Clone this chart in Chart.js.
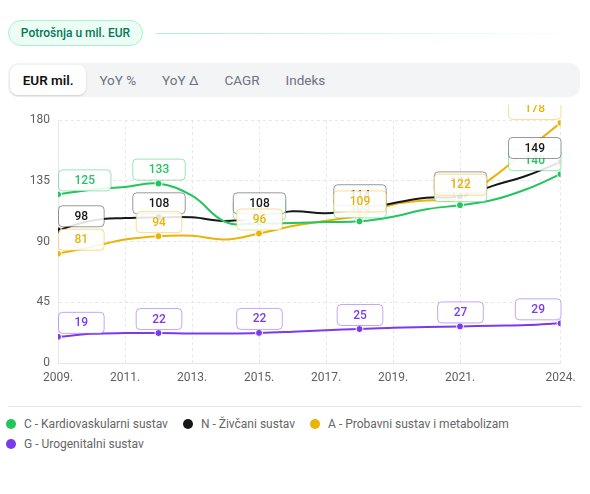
<!DOCTYPE html>
<html>
<head>
<meta charset="utf-8">
<script src="https://cdn.jsdelivr.net/npm/chart.js@4.4.0/dist/chart.umd.min.js"></script>
<style>
  body { margin: 0; width: 590px; height: 494px; background: #fff; font-family: Roboto, sans-serif; position: relative; overflow: hidden; }
  .pill { position: absolute; left: 8px; top: 20px; width: 135px; height: 26px; box-sizing: border-box;
          border: 1px solid #a7f3d0; background: #ecfdf5; border-radius: 13px;
          color: #047857; font-size: 12px; font-weight: 500; line-height: 24px; text-align: center; }
  .rule { position: absolute; left: 156px; top: 33px; width: 424px; height: 1px;
          background: linear-gradient(90deg, #a7f3d0, rgba(167,243,208,0)); }
  .tabs { position: absolute; left: 8px; top: 63px; width: 572px; height: 34px; box-sizing: border-box;
          padding: 2px; background: #f3f4f6; border-radius: 10px; display: flex; }
  .tab { height: 30px; line-height: 30px; padding: 0 13px; font-size: 13.5px; color: #6b7280; }
  .tab.active { background: #fff; color: #111; font-weight: 600; border-radius: 8px; padding: 0 12.7px;
                box-shadow: 0 1px 2px rgba(0,0,0,0.15); }
  .wrap { position: absolute; left: 0; top: 105px; width: 590px; height: 290px; }
  .sep { position: absolute; left: 8px; top: 406px; width: 574px; height: 1px; background: #e5e7eb; }
  #legend { position: absolute; left: 6px; top: 414px; width: 580px; display: flex; flex-wrap: wrap; column-gap: 15px; }
  .item { height: 20px; display: flex; align-items: center; font-size: 12px; color: #666; }
  .dot { width: 10px; height: 10px; border-radius: 50%; margin-right: 8px; }
</style>
</head>
<body>
<div class="pill">Potrošnja u mil. EUR</div>
<div class="rule"></div>
<div class="tabs">
  <span class="tab active">EUR mil.</span>
  <span class="tab">YoY %</span>
  <span class="tab">YoY Δ</span>
  <span class="tab">CAGR</span>
  <span class="tab">Indeks</span>
</div>
<div class="wrap"><canvas id="chart"></canvas></div>
<div class="sep"></div>
<div id="legend"></div>
<script>
// godine i vrijednosti (mil. EUR)
const years = [2009, 2010, 2011, 2012, 2013, 2014, 2015, 2016, 2017, 2018, 2019, 2020, 2021, 2022, 2023, 2024];
const kardio  = [125, 128.5, 130.5, 133, 124, 104.5, 103.5, 103.8, 104.5, 105, 108.5, 114, 117, 121, 129, 140];
const zivcani = [98.4, 105.5, 107.5, 108, 108, 105.3, 108, 112.5, 111, 114, 118.5, 122.5, 123.5, 131.5, 139, 149];
const probavni = [81, 86, 91.5, 94, 94.3, 91.6, 96, 101.5, 105.5, 109.4, 117.5, 120.5, 121.8, 138, 158, 178];
const urogen  = [19.4, 21.6, 22.2, 22.2, 21.8, 21.9, 22.3, 23.2, 24.3, 25.2, 26.2, 26.7, 27.1, 27.6, 28.1, 29.4];

const seriesNames = ['C - Kardiovaskularni sustav', 'N - Živčani sustav', 'A - Probavni sustav i metabolizam', 'G - Urogenitalni sustav'];
const seriesValues = [kardio, zivcani, probavni, urogen];
const seriesColors = ['#22c55e', '#171717', '#eab308', '#7c3aed'];
const boxBorders = ['rgba(34,197,94,0.45)', 'rgba(0,0,0,0.4)', 'rgba(234,179,8,0.45)', 'rgba(124,58,237,0.45)'];

const xTicks = [2009, 2011, 2013, 2015, 2017, 2019, 2021, 2024];
const yTicks = [0, 45, 90, 135, 180];
const labelEvery = 3;

Chart.defaults.font.family = 'Roboto';

// natpisi s vrijednostima iznad svake trece tocke
const valueLabels = {
  id: 'valueLabels',
  afterDatasetsDraw(chart) {
    const {ctx, chartArea} = chart;
    ctx.save();
    ctx.font = '500 12px Roboto';
    ctx.textAlign = 'center';
    ctx.textBaseline = 'middle';
    chart.data.datasets.forEach((ds, i) => {
      chart.getDatasetMeta(i).data.forEach((pt, j) => {
        if (j % labelEvery !== 0) return;
        const text = String(Math.round(ds.data[j].y));
        const w = ctx.measureText(text).width + 32;
        const h = 21;
        let x = Math.max(chartArea.left, Math.min(pt.x - w / 2, chartArea.right - w));
        const y = pt.y - 4 - h;
        ctx.beginPath();
        ctx.roundRect(x + 0.5, y + 0.5, w, h, 4);
        ctx.fillStyle = 'rgba(255,255,255,0.88)';
        ctx.fill();
        ctx.lineWidth = 1;
        ctx.strokeStyle = boxBorders[i];
        ctx.stroke();
        ctx.fillStyle = ds.borderColor;
        ctx.fillText(text, x + w / 2 + 0.5, y + h / 2 + 1);
      });
    });
    ctx.restore();
  }
};

const datasets = seriesValues.map((vals, i) => ({
  label: seriesNames[i],
  data: vals.map((v, k) => ({x: years[k], y: v})),
  borderColor: seriesColors[i],
  backgroundColor: seriesColors[i],
  borderWidth: 2,
  tension: 0.4,
  pointRadius: c => c.dataIndex % labelEvery === 0 ? 3.5 : 0,
  pointHoverRadius: c => c.dataIndex % labelEvery === 0 ? 3.5 : 0,
  pointBorderColor: '#fff',
  pointBorderWidth: 1
}));

const gridColor = '#e5e7eb';

new Chart(document.getElementById('chart'), {
  type: 'line',
  data: {datasets: datasets},
  options: {
    responsive: true,
    maintainAspectRatio: false,
    animation: false,
    layout: {padding: {top: 15, right: 29.5, left: 0, bottom: 0}},
    plugins: {legend: {display: false}, tooltip: {enabled: false}},
    scales: {
      x: {
        type: 'linear', min: 2009, max: 2024,
        afterBuildTicks: s => { s.ticks = xTicks.map(v => ({value: v})); },
        afterFit: s => { s.height = 32; },
        ticks: {padding: 8, color: '#5f5f5f', font: {size: 12}, callback: v => v + '.'},
        grid: {color: gridColor, drawTicks: false},
        border: {color: gridColor, dash: [3, 3]}
      },
      y: {
        min: 0, max: 180,
        afterBuildTicks: s => { s.ticks = yTicks.map(v => ({value: v})); },
        afterFit: s => { s.width = 58; },
        ticks: {padding: 8, color: '#5f5f5f', font: {size: 12}},
        grid: {color: gridColor, drawTicks: false},
        border: {color: gridColor, dash: [3, 3]}
      }
    }
  },
  plugins: [valueLabels]
});

// legenda
const legend = document.getElementById('legend');
seriesNames.forEach((name, i) => {
  const item = document.createElement('div');
  item.className = 'item';
  item.innerHTML = '<span class="dot" style="background:' + seriesColors[i] + '"></span>' + name;
  legend.appendChild(item);
});
</script>
</body>
</html>
